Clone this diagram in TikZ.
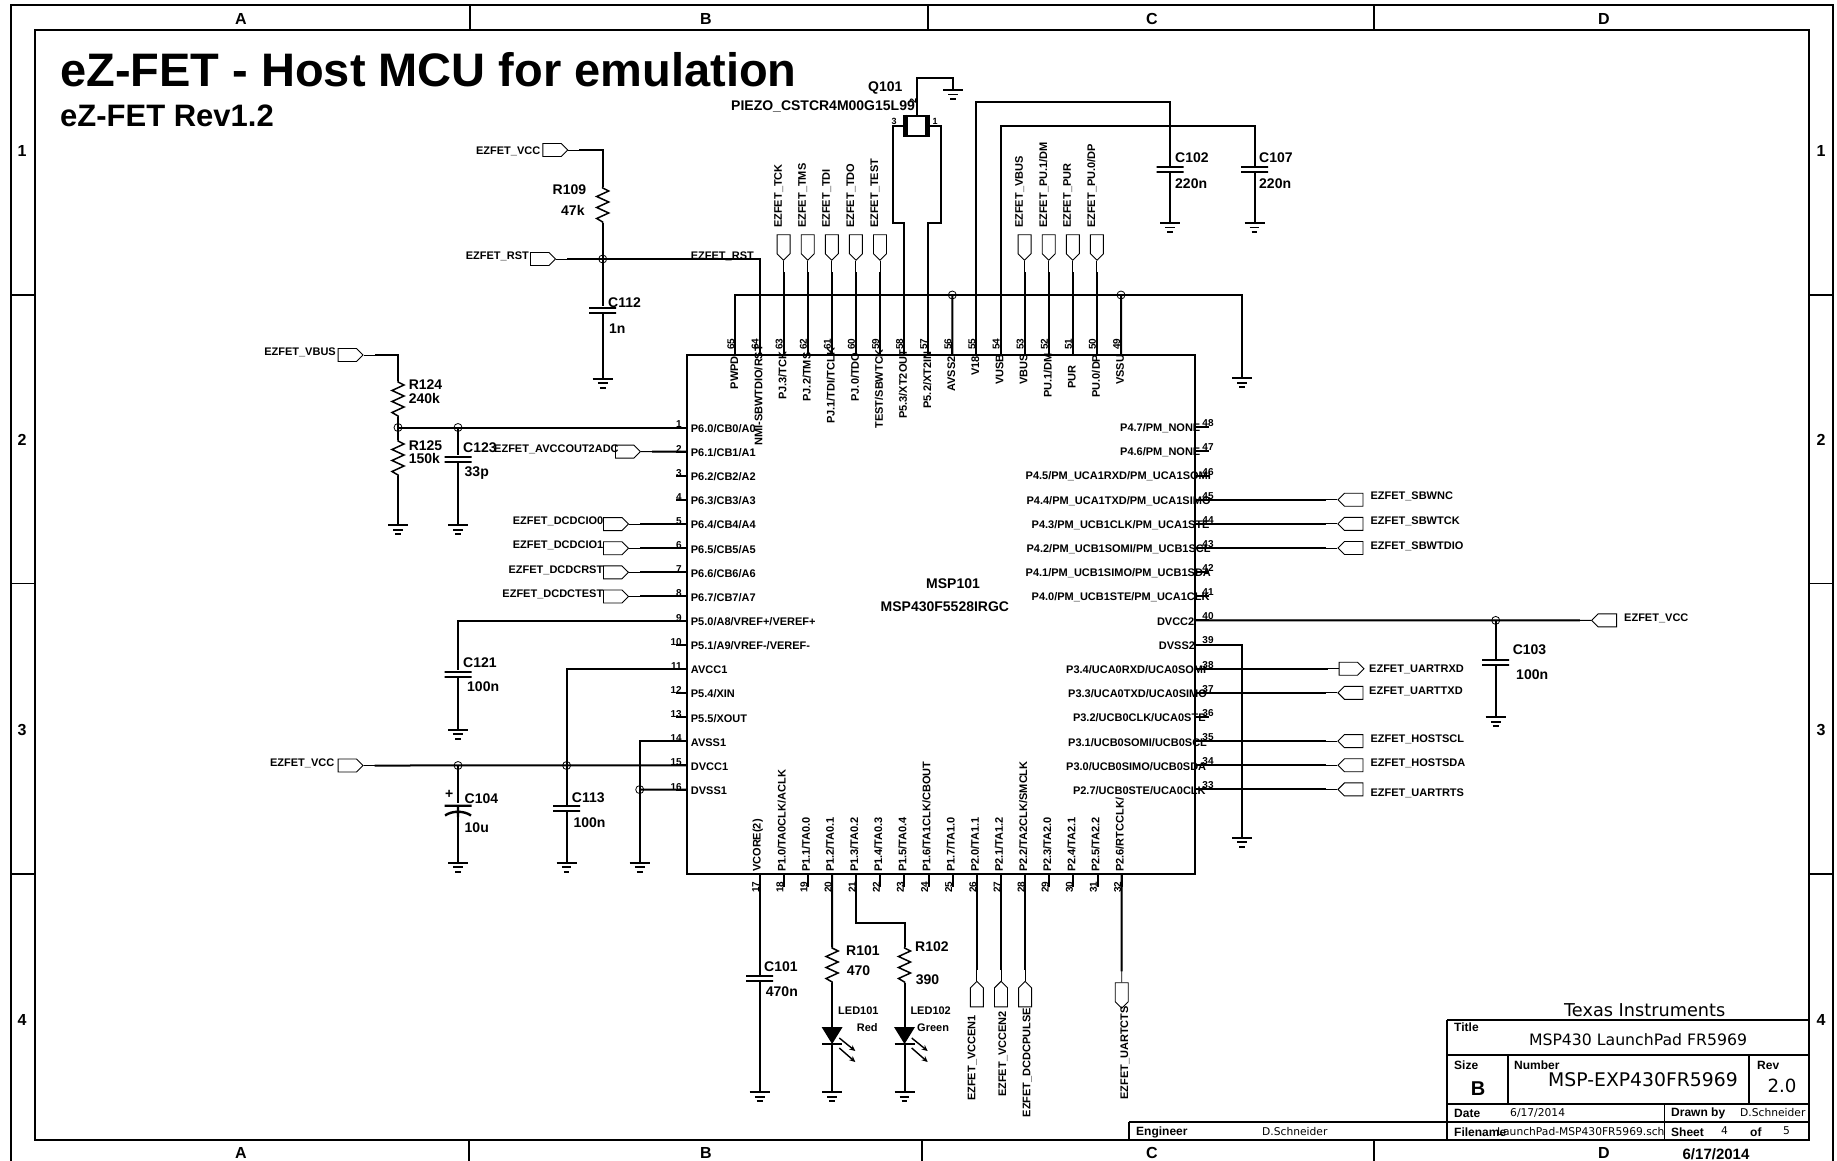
\documentclass[tikz,border=0pt]{standalone}
\usepackage{fontspec}
\setmainfont{Liberation Sans}
\newfontfamily\dvfont{DejaVu Sans}
\usetikzlibrary{arrows.meta}
\usetikzlibrary{shapes.symbols}
\tikzset{>=Stealth}
\tikzset{
  wire/.style={line width=2pt},
  frame/.style={line width=1.8pt},
  tagwire/.style={line width=.9pt,postaction={draw,line width=2pt,shorten >=11pt}},
  nettag/.style={shape=signal,draw,line width=.9pt,inner sep=0pt},
  tagR/.style={nettag,signal to=east,minimum width=25pt,minimum height=13pt},
  tagL/.style={nettag,signal to=west,minimum width=25pt,minimum height=13pt},
  tagD/.style={nettag,signal to=south,minimum width=13pt,minimum height=19pt},
  tagU/.style={nettag,signal to=north,minimum width=13pt,minimum height=19pt},
  lab/.style={font=\fontsize{11}{13}\selectfont\bfseries,inner sep=0pt,yshift=-1pt},
  pinnum/.style={font=\fontsize{10}{12}\selectfont\bfseries,inner sep=0pt},
  ref/.style={font=\fontsize{14}{16}\selectfont\bfseries,inner sep=0pt,anchor=west,yshift=-1pt},
  zone/.style={font=\fontsize{16}{18}\selectfont\bfseries,inner sep=0pt,yshift=-1pt},
  tb/.style={font=\fontsize{12}{14}\selectfont\bfseries,inner sep=0pt,anchor=west},
  tbs/.style={font=\dvfont\fontsize{10.7}{12}\selectfont,inner sep=0pt,anchor=west},
  junc/.style={circle,draw,line width=.8pt,minimum size=8pt,inner sep=0pt},
  res/.style={minimum width=16pt,minimum height=36pt,inner sep=0pt,path picture={
    \draw[shift={(path picture bounding box.center)},line width=1.5pt]
      (0,-18)--(0,-17)--(6,-14)--(-6,-8.5)--(6,-3)--(-6,2.5)--(6,8)--(-6,13.5)--(0,17)--(0,18);}},
  capv/.style={minimum width=27pt,minimum height=7pt,inner sep=0pt,path picture={
    \draw[shift={(path picture bounding box.center)},line width=2pt]
      (-14,-2.5)--(14,-2.5) (-14,2.5)--(14,2.5);}},
  capp/.style={minimum width=27pt,minimum height=14pt,inner sep=0pt,path picture={
    \draw[shift={(path picture bounding box.center)},line width=2.4pt]
      (-14,-4.3)--(14,-4.3) (-13,5.5) .. controls (-6,.5) and (6,.5) .. (13,5.5) (0,-4.3)--(0,7);}},
  gnd/.style={minimum width=21pt,minimum height=11pt,inner sep=0pt,anchor=north,path picture={
    \draw[shift={(path picture bounding box.center)},line width=1.6pt]
      (-10,-4.5)--(10,-4.5) (-4.8,0)--(4.8,0) (-2.8,4.5)--(2.8,4.5);}},
  led/.style={minimum width=22pt,minimum height=18pt,inner sep=0pt,path picture={
    \fill[shift={(path picture bounding box.center)}] (-10.5,-9)--(10.5,-9)--(0,8)--cycle;
    \draw[shift={(path picture bounding box.center)},line width=1.6pt] (-10,8)--(10,8);}},
  ledray/.style={-{Stealth[length=6pt,width=5.5pt]},line width=1.4pt}
}
\begin{document}
\begin{tikzpicture}[x=1pt,y=-1pt]
    \useasboundingbox (0,0) rectangle (1837,1161);
    % sheet frame
    \draw[frame] (11,1161) -- (11,5) -- (1833,5) -- (1833,1161);
    \draw[frame] (35,30) rectangle (1809,1140);
    \foreach \x in {470,928,1374} \draw[line width=1.2pt] (\x,5) -- (\x,30);
    \foreach \x in {469,922,1374} \draw[line width=1.2pt] (\x,1140) -- (\x,1161);
    \foreach \y in {295,583.5,874} {
        \draw[line width=1.2pt] (11,\y) -- (35,\y);
        \draw[line width=1.2pt] (1809,\y) -- (1833,\y);
    }
    \foreach \x/\s [count=\i] in {241/A,706/B,1152/C,1604/D} {
        \node[zone] (ztop\i) at (\x,17.5) {\s};
        \node[zone] (zbot\i) at (\x,1152) {\s};
    }
    \foreach \y/\s in {150/1,439/2,729/3,1019/4} {
        \node[zone] (zl\s) at (22,\y) {\s};
        \node[zone] (zr\s) at (1821,\y) {\s};
    }
    \node[inner sep=0pt,anchor=base west,font=\fontsize{47}{50}\selectfont\bfseries] (title) at (60,87) {eZ-FET - Host MCU for emulation};
    \node[inner sep=0pt,anchor=base west,font=\fontsize{31}{34}\selectfont\bfseries] (subtitle) at (60,127) {eZ-FET Rev1.2};

    % the MCU
    \node[draw,line width=2pt,minimum width=508pt,minimum height=519pt,inner sep=0pt] (msp) at (941,614.5) {};
    \node[ref] (mspa) at (926,583) {MSP101};
    \node[ref] (mspb) at (880.5,606) {MSP430F5528IRGC};
    \foreach \n/\s in {1/{P6.0/CB0/A0},2/{P6.1/CB1/A1},3/{P6.2/CB2/A2},4/{P6.3/CB3/A3},5/{P6.4/CB4/A4},6/{P6.5/CB5/A5},7/{P6.6/CB6/A6},8/{P6.7/CB7/A7},9/{P5.0/A8/VREF+/VEREF+},10/{P5.1/A9/VREF-/VEREF-},11/{AVCC1},12/{P5.4/XIN},13/{P5.5/XOUT},14/{AVSS1},15/{DVCC1},16/{DVSS1}} {
        \coordinate (p\n) at (687,{427.5+(\n-1)*24.14});
        \draw[wire] (p\n) -- ++(-11,0);
        \node[pinnum,anchor=east] (n\n) at (682,{424.5+(\n-1)*24.14}) {\n};
        \node[lab,anchor=west] (s\n) at (690.7,{427.5+(\n-1)*24.14}) {\s};
    }
    \foreach \n/\x/\s in {48/1120/{P4.7/PM\_NONE},47/1120/{P4.6/PM\_NONE},46/1025.5/{P4.5/PM\_UCA1RXD/PM\_UCA1SOMI},45/1026.4/{P4.4/PM\_UCA1TXD/PM\_UCA1SIMO},44/1031.5/{P4.3/PM\_UCB1CLK/PM\_UCA1STE},43/1026.4/{P4.2/PM\_UCB1SOMI/PM\_UCB1SCL},42/1025.5/{P4.1/PM\_UCB1SIMO/PM\_UCB1SDA},41/1031.5/{P4.0/PM\_UCB1STE/PM\_UCA1CLK},40/1156.8/{DVCC2},39/1158.7/{DVSS2},38/1066/{P3.4/UCA0RXD/UCA0SOMI},37/1068/{P3.3/UCA0TXD/UCA0SIMO},36/1072.8/{P3.2/UCB0CLK/UCA0STE},35/1068/{P3.1/UCB0SOMI/UCB0SCL},34/1066/{P3.0/UCB0SIMO/UCB0SDA},33/1072.8/{P2.7/UCB0STE/UCA0CLK}} {
        \coordinate (p\n) at (1195,{427.3+(48-\n)*24.14});
        \draw[wire] (p\n) -- ++(14,0);
        \node[pinnum] (n\n) at (1208,{423.3+(48-\n)*24.14}) {\n};
        \node[lab,anchor=west] (s\n) at (\x,{427.3+(48-\n)*24.14}) {\s};
    }
    \foreach \n/\b/\s in {65/388.3/{PWPD},64/445/{NMI-SBWTDIO/RST},63/399/{PJ.3/TCK},62/400.7/{PJ.2/TMS},61/423/{PJ.1/TDI/TCLK},60/400.7/{PJ.0/TDO},59/427.7/{TEST/SBWTCK},58/418/{P5.3/XT2OUT},57/407.7/{P5.2/XT2IN},56/390.7/{AVSS2},55/375/{V18},54/384/{VUSB},53/384/{VBUS},52/397/{PU.1/DM},51/388/{PUR},50/396.7/{PU.0/DP},49/384/{VSSU}} {
        \coordinate (p\n) at ({735.4+(65-\n)*24.1},355);
        \draw[wire] (p\n) -- ++(0,-13);
        \node[pinnum,rotate=90] (n\n) at ({731+(65-\n)*24.1},344) {\n};
        \node[lab,rotate=90,anchor=west,yshift=1pt] (s\n) at ({735.4+(65-\n)*24.1},\b) {\s};
    }
    \foreach \n/\s in {17/{VCORE(2)},18/{P1.0/TA0CLK/ACLK},19/{P1.1/TA0.0},20/{P1.2/TA0.1},21/{P1.3/TA0.2},22/{P1.4/TA0.3},23/{P1.5/TA0.4},24/{P1.6/TA1CLK/CBOUT},25/{P1.7/TA1.0},26/{P2.0/TA1.1},27/{P2.1/TA1.2},28/{P2.2/TA2CLK/SMCLK},29/{P2.3/TA2.0},30/{P2.4/TA2.1},31/{P2.5/TA2.2},32/{P2.6/RTCCLK/}} {
        \coordinate (p\n) at ({759.7+(\n-17)*24.13},874);
        \draw[wire] (p\n) -- ++(0,13);
        \node[pinnum,rotate=90] (n\n) at ({755.7+(\n-17)*24.13},887) {\n};
        \node[lab,rotate=90,anchor=west,yshift=1pt] (s\n) at ({758.7+(\n-17)*24.13},871) {\s};
    }

    % tags along the top and the bottom
    \foreach \n/\s in {63/EZFET\_TCK,62/EZFET\_TMS,61/EZFET\_TDI,60/EZFET\_TDO,59/EZFET\_TEST,53/EZFET\_VBUS,52/{EZFET\_PU.1/DM},51/EZFET\_PUR,50/{EZFET\_PU.0/DP}} {
        \node[tagD,anchor=north] (t\n) at ({735.4+(65-\n)*24.1},234.3) {};
        \node[lab,rotate=90,anchor=west,yshift=1pt] (lt\n) at ({731.4+(65-\n)*24.1},227) {\s};
        \draw[tagwire] (p\n) -- (t\n.south);
    }
    \foreach \n/\dx/\t/\s in {26/-3.6/1014/EZFET\_VCCEN1,27/3/1010/EZFET\_VCCEN2,28/3/1006.7/EZFET\_DCDCPULSE} {
        \node[tagU,anchor=south] (t\n) at ({759.7+(\n-17)*24.13},1007.3) {};
        \node[lab,rotate=90,anchor=east,yshift=1pt] (lt\n) at ({759.7+(\n-17)*24.13+\dx},\t) {\s};
        \draw[tagwire] (p\n) -- (t\n.north);
    }
    \node[tagD,anchor=north] (t32) at (1121.7,982.3) {};
    \node[lab,rotate=90,anchor=east,yshift=1pt] (lt32) at (1126,1005) {EZFET\_UARTCTS};
    \draw[tagwire] (p32) -- (t32.north);

    % tags on the right
    \foreach \n/\d/\x/\s in {45/-4/1370.3/EZFET\_SBWNC,44/-4/1370.3/EZFET\_SBWTCK,43/-3/1370.3/EZFET\_SBWTDIO,37/-2/1369/EZFET\_UARTTXD,35/-3/1370.3/EZFET\_HOSTSCL,34/-3/1370.3/EZFET\_HOSTSDA,33/3/1370.3/EZFET\_UARTRTS} {
        \node[tagL,anchor=east] (t\n) at (1363.4,{427.3+(48-\n)*24.14}) {};
        \node[lab,anchor=west] (lt\n) at (\x,{427.3+(48-\n)*24.14+\d}) {\s};
        \draw[tagwire] (p\n) -- (t\n.west);
    }
    \node[tagR,anchor=west] (t38) at (1338.6,668.7) {};
    \node[lab,anchor=west] (lt38) at (1369,668.7) {EZFET\_UARTRXD};
    \draw[tagwire] (p38) -- (t38.west);

    % tags on the left
    \foreach \n/\s in {5/EZFET\_DCDCIO0,6/EZFET\_DCDCIO1,7/EZFET\_DCDCRST,8/EZFET\_DCDCTEST} {
        \node[tagR,anchor=west] (t\n) at (603,{427.5+(\n-1)*24.14}) {};
        \node[lab,anchor=east] (lt\n) at (603.5,{424+(\n-1)*24.14}) {\s};
        \draw[tagwire] (p\n) -- (t\n.east);
    }
    \node[tagR,anchor=west] (t2) at (615,451.6) {};
    \node[lab,anchor=west] (lt2) at (494,448) {EZFET\_AVCCOUT2ADC};
    \draw[tagwire] (p2) -- (t2.east);

    % P6.0 divider
    \node[tagR,anchor=west] (tvbus) at (337.6,355) {};
    \node[lab,anchor=east] (ltvbus) at (336,351.4) {EZFET\_VBUS};
    \node[res] (r124) at (398,399) {};
    \node[res] (r125) at (398,458) {};
    \node[capv] (c123) at (458,459) {};
    \node[junc] (j125) at (398,427.5) {};
    \node[junc] (j123) at (458,427.5) {};
    \node[gnd] (g125) at (398,524) {};
    \node[gnd] (g123) at (458,524) {};
    \draw[tagwire] (r124.north) |- (tvbus.east);
    \draw[wire] (r124.south) -- (j125.center) -- (r125.north);
    \draw[wire] (r125.south) -- (g125.north);
    \draw[wire] (p1) -- (j125.center);
    \draw[wire] (j123.center) -- (c123.north);
    \draw[wire] (c123.south) -- (g123.north);

    % P5.0 and the supply pins
    \node[capv] (c121) at (458,674) {};
    \node[gnd] (g121) at (458,728.5) {};
    \draw[wire] (p9) -| (c121.north);
    \draw[wire] (c121.south) -- (g121.north);
    \node[tagR,anchor=west] (tvcc) at (337.6,765.5) {};
    \node[lab,anchor=east] (ltvcc) at (334.5,762) {EZFET\_VCC};
    \draw[tagwire] (p15) -- (tvcc.east);
    \node[junc] (j104) at (458,765.5) {};
    \node[junc] (j113) at (566.6,765.5) {};
    \node[junc] (j16) at (639.7,789.6) {};
    \node[capp] (c104) at (458,810) {};
    \node[capv] (c113) at (566.6,808.5) {};
    \node[gnd] (g104) at (458,861.5) {};
    \node[gnd] (g113) at (566.6,861.5) {};
    \node[gnd] (g14) at (639.7,861.5) {};
    \draw[wire] (j104.center) -- (c104.north);
    \draw[wire] (c104.south) -- (g104.north);
    \draw[wire] (p11) -| (c113.north);
    \draw[wire] (c113.south) -- (g113.north);
    \draw[wire] (p14) -| (g14.north);
    \draw[wire] (p16) -- (j16.center);

    % reset
    \node[tagR,anchor=west] (tvccr) at (542.4,150) {};
    \node[lab,anchor=east] (ltvccr) at (540.5,150) {EZFET\_VCC};
    \node[res] (r109) at (602.7,205) {};
    \node[junc] (jrst) at (602.7,259) {};
    \node[tagR,anchor=west] (trst) at (530,259) {};
    \node[lab,anchor=east] (ltrst) at (529,255) {EZFET\_RST};
    \node[lab,anchor=east] (lnrst) at (754,255) {EZFET\_RST};
    \node[capv] (c112) at (602.7,310) {};
    \node[gnd] (g112) at (602.7,377.5) {};
    \draw[tagwire] (r109.north) |- (tvccr.east);
    \draw[wire] (r109.south) -- (jrst.center) -- (c112.north);
    \draw[wire] (c112.south) -- (g112.north);
    \draw[wire] (p64) |- (jrst.center);
    \draw[tagwire] (jrst.center) -- (trst.east);

    % ground bus along the top
    \coordinate (bus) at (1242,295);
    \node[gnd] (gbus) at (1242,377) {};
    \node[junc] (j56) at (952.3,295) {};
    \node[junc] (j49) at (1121,295) {};
    \draw[wire] (p65) |- (bus) -- (gbus.north);
    \draw[wire] (p56) -- (j56.center);
    \draw[wire] (p49) -- (j49.center);

    % resonator
    \node[draw,line width=2.5pt,minimum width=20pt,minimum height=20pt,inner sep=0pt] (xtal) at (916.5,126) {};
    \draw[line width=4pt] (xtal.north west) -- (xtal.south west);
    \draw[line width=4pt] (xtal.north east) -- (xtal.south east);
    \coordinate (q3) at (892.7,222.7);
    \coordinate (q1) at (941,222.7);
    \coordinate (q2) at (916.5,78);
    \coordinate (q2b) at (953,78);
    \node[gnd] (gq) at (953,89) {};
    \draw[wire] (xtal.west) -| (q3) -| (p58);
    \draw[wire] (xtal.east) -| (q1) -| (p57);
    \draw[wire] (xtal.north) -- (q2) -- (q2b) -- (gq.north);
    \node[font=\fontsize{14}{15}\selectfont\bfseries,inner sep=0pt,anchor=west,yshift=-1pt] (q101) at (868,87) {Q101};
    \node[font=\fontsize{14}{15}\selectfont\bfseries,inner sep=0pt,anchor=west,yshift=-1pt] (piezo) at (731,105.7) {PIEZO\_CSTCR4M00G15L99};
    \node[font=\fontsize{9}{10}\selectfont\bfseries,inner sep=0pt] (xn3) at (894,121.5) {3};
    \node[font=\fontsize{9}{10}\selectfont\bfseries,inner sep=0pt] (xn1) at (935,121.5) {1};
    \node[font=\fontsize{9}{10}\selectfont\bfseries,inner sep=0pt,rotate=90] (xn2) at (913,101) {2};

    % V18 and VUSB
    \coordinate (v18) at (1170,101.7);
    \coordinate (vusb) at (1254.5,126);
    \node[capv] (c102) at (1170,169.5) {};
    \node[capv] (c107) at (1254.5,169.5) {};
    \node[gnd] (g102) at (1170,222) {};
    \node[gnd] (g107) at (1254.5,222) {};
    \draw[wire] (p55) |- (v18) -- (c102.north);
    \draw[wire] (c102.south) -- (g102.north);
    \draw[wire] (p54) |- (vusb) -- (c107.north);
    \draw[wire] (c107.south) -- (g107.north);

    % right side
    \node[tagL,anchor=east] (tvcc3) at (1617,620.4) {};
    \node[lab,anchor=west] (ltvcc3) at (1624,617) {EZFET\_VCC};
    \node[junc] (j103) at (1495.7,620.4) {};
    \node[capv] (c103) at (1495.7,662.5) {};
    \node[gnd] (g103) at (1495.7,716) {};
    \node[gnd] (g39) at (1242,836.5) {};
    \draw[tagwire] (p40) -- (tvcc3.west);
    \draw[wire] (j103.center) -- (c103.north);
    \draw[wire] (c103.south) -- (g103.north);
    \draw[wire] (p39) -| (g39.north);

    % bottom side
    \node[capv] (c101) at (759.7,978.3) {};
    \node[gnd] (g101) at (759.7,1091) {};
    \draw[wire] (p17) -- (c101.north);
    \draw[wire] (c101.south) -- (g101.north);
    \coordinate (q21) at (904.5,922.7);
    \node[res] (r101) at (832.1,965) {};
    \node[res] (r102) at (904.5,965) {};
    \node[led] (led101) at (832.1,1036) {};
    \node[led] (led102) at (904.5,1036) {};
    \node[gnd] (g101b) at (832.1,1091) {};
    \node[gnd] (g102b) at (904.5,1091) {};
    \draw[wire] (p20) -- (r101.north);
    \draw[wire] (p21) |- (q21) -- (r102.north);
    \foreach \a/\b/\c in {r101/led101/g101b,r102/led102/g102b} {
        \draw[wire] (\a.south) -- (\b.north);
        \draw[wire] (\b.south) -- (\c.north);
        \draw[ledray] ([shift={(-4,2)}]\b.east) -- ([shift={(12,15)}]\b.east);
        \draw[ledray] ([shift={(-4,12)}]\b.east) -- ([shift={(12,26)}]\b.east);
    }

    % reference designators and values
    \foreach \x/\y/\s [count=\i] in {
        552.5/189/R109,561/209/47k,608/302/C112,609/328/1n,
        408.6/384/R124,408.6/397/240k,408.6/445/R125,408.6/457.5/150k,463/447/C123,464.5/472/33p,
        463/662/C121,467/686/100n,464.5/798/C104,464.5/827/10u,571.7/797/C113,573.4/822/100n,
        1175/157/C102,1175/183/220n,1259/157/C107,1259/183/220n,1512.6/649/C103,1516/674/100n,
        764/966/C101,765.7/991/470n,846/950/R101,846.7/970/470,915/946/R102,915.7/979/390} {
        \node[ref] (cv\i) at (\x,\y) {\s};
    }
    \node[ref] (plus) at (445,793) {+};
    \node[lab,anchor=west] (lled1) at (838,1010) {LED101};
    \node[lab,anchor=west] (lred) at (856.7,1027) {Red};
    \node[lab,anchor=west] (lled2) at (910.3,1010) {LED102};
    \node[lab,anchor=west] (lgreen) at (917,1027) {Green};

    % title block
    \draw[frame] (1447,1020) -- (1809,1020);
    \draw[frame] (1447,1020) -- (1447,1140);
    \draw[frame] (1447,1055) -- (1809,1055);
    \draw[frame] (1447,1104) -- (1809,1104);
    \draw[frame] (1129,1121.7) -- (1809,1121.7);
    \draw[frame] (1129,1121.7) -- (1129,1140);
    \draw[frame] (1508,1055) -- (1508,1104);
    \draw[frame] (1749,1055) -- (1749,1104);
    \draw[frame] (1664.4,1104) -- (1664.4,1140);
    \node[inner sep=0pt,font=\dvfont\fontsize{17.7}{20}\selectfont] (tbco) at (1644.7,1010) {Texas Instruments};
    \node[inner sep=0pt,font=\dvfont\fontsize{15.7}{18}\selectfont] (tbname) at (1638,1040) {MSP430 LaunchPad FR5969};
    \node[inner sep=0pt,font=\dvfont\fontsize{18.8}{21}\selectfont] (tbnum) at (1643,1080) {MSP-EXP430FR5969};
    \node[inner sep=0pt,font=\dvfont\fontsize{18.2}{21}\selectfont] (tbrev) at (1782,1086) {2.0};
    \node[inner sep=0pt,font=\fontsize{20}{22}\selectfont\bfseries] (tbsize) at (1478,1089) {B};
    \foreach \x/\y/\s [count=\i] in {1454/1027/Title,1454/1065/Size,1514/1065/Number,1757/1065/Rev,1454/1113/Date,1671/1113/Drawn by,1454/1132/Filename,1671/1132/Sheet,1750/1132/of,1136/1132/Engineer} {
        \node[tb] (tbl\i) at (\x,\y) {\s};
    }
    \foreach \x/\y/\s [count=\i] in {1510/1113/{6/17/2014},1740/1113/D.Schneider,1497/1131.7/{LaunchPad-MSP430FR5969.sch},1721/1131/4,1783/1131/5,1262/1132/D.Schneider} {
        \node[tbs] (tbv\i) at (\x,\y) {\s};
    }
    \node[inner sep=0pt,font=\fontsize{15}{17}\selectfont\bfseries] (tbdate) at (1716,1154) {6/17/2014};
\end{tikzpicture}
\end{document}
